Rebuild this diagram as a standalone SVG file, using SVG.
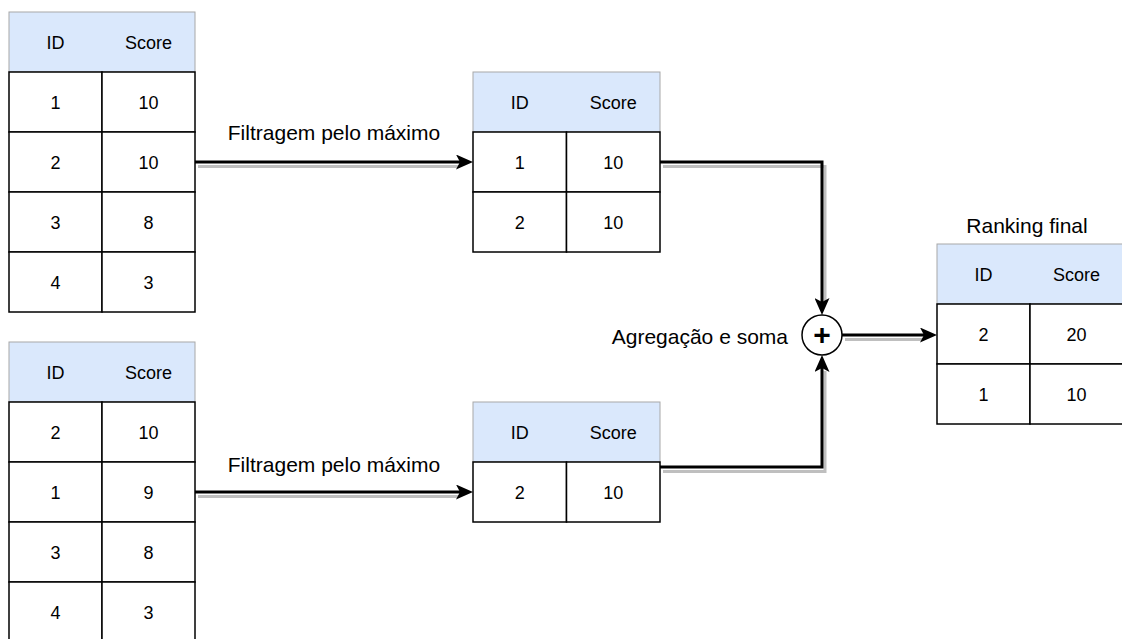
<svg xmlns="http://www.w3.org/2000/svg" width="1122" height="639" viewBox="0 0 1122 639">
<defs>
<style>
.hdr{fill:#dae8fc;stroke:#a8a8a8;stroke-width:1}
.cell{fill:#ffffff;stroke:#000;stroke-width:1.5}
.t{font-family:"Liberation Sans",Arial,sans-serif;font-size:18px;fill:#000;text-anchor:middle}
.lbl{font-family:"Liberation Sans",Arial,sans-serif;font-size:21px;fill:#000}
.edge{fill:none;stroke:#000;stroke-width:3}
.shadow{fill:none;stroke:#000;stroke-opacity:0.25;stroke-width:3}
</style>
<marker id="arr" markerUnits="userSpaceOnUse" markerWidth="17" markerHeight="15" refX="9" refY="7.5" orient="auto">
<path d="M0,0 L17,7.5 L0,15 L4,7.5 Z" fill="#000"/>
</marker>
</defs>
<rect width="1122" height="639" fill="#fff"/>

<g id="table1">
<rect class="hdr" x="9" y="12" width="186" height="60"/>
<text class="t" x="55.5" y="48.5">ID</text><text class="t" x="148.5" y="48.5">Score</text>
<rect class="cell" x="9" y="72" width="93" height="60"/><rect class="cell" x="102" y="72" width="93" height="60"/>
<text class="t" x="55.5" y="108.5">1</text><text class="t" x="148.5" y="108.5">10</text>
<rect class="cell" x="9" y="132" width="93" height="60"/><rect class="cell" x="102" y="132" width="93" height="60"/>
<text class="t" x="55.5" y="168.5">2</text><text class="t" x="148.5" y="168.5">10</text>
<rect class="cell" x="9" y="192" width="93" height="60"/><rect class="cell" x="102" y="192" width="93" height="60"/>
<text class="t" x="55.5" y="228.5">3</text><text class="t" x="148.5" y="228.5">8</text>
<rect class="cell" x="9" y="252" width="93" height="60"/><rect class="cell" x="102" y="252" width="93" height="60"/>
<text class="t" x="55.5" y="288.5">4</text><text class="t" x="148.5" y="288.5">3</text>
</g>

<g id="table2">
<rect class="hdr" x="9" y="342" width="186" height="60"/>
<text class="t" x="55.5" y="378.5">ID</text><text class="t" x="148.5" y="378.5">Score</text>
<rect class="cell" x="9" y="402" width="93" height="60"/><rect class="cell" x="102" y="402" width="93" height="60"/>
<text class="t" x="55.5" y="438.5">2</text><text class="t" x="148.5" y="438.5">10</text>
<rect class="cell" x="9" y="462" width="93" height="60"/><rect class="cell" x="102" y="462" width="93" height="60"/>
<text class="t" x="55.5" y="498.5">1</text><text class="t" x="148.5" y="498.5">9</text>
<rect class="cell" x="9" y="522" width="93" height="60"/><rect class="cell" x="102" y="522" width="93" height="60"/>
<text class="t" x="55.5" y="558.5">3</text><text class="t" x="148.5" y="558.5">8</text>
<rect class="cell" x="9" y="582" width="93" height="60"/><rect class="cell" x="102" y="582" width="93" height="60"/>
<text class="t" x="55.5" y="618.5">4</text><text class="t" x="148.5" y="618.5">3</text>
</g>

<g id="table3">
<rect class="hdr" x="473" y="72" width="187" height="60"/>
<text class="t" x="519.75" y="108.5">ID</text><text class="t" x="613.25" y="108.5">Score</text>
<rect class="cell" x="473" y="132" width="93.5" height="60"/><rect class="cell" x="566.5" y="132" width="93.5" height="60"/>
<text class="t" x="519.75" y="168.5">1</text><text class="t" x="613.25" y="168.5">10</text>
<rect class="cell" x="473" y="192" width="93.5" height="60"/><rect class="cell" x="566.5" y="192" width="93.5" height="60"/>
<text class="t" x="519.75" y="228.5">2</text><text class="t" x="613.25" y="228.5">10</text>
</g>

<g id="table4">
<rect class="hdr" x="473" y="402" width="187" height="60"/>
<text class="t" x="519.75" y="438.5">ID</text><text class="t" x="613.25" y="438.5">Score</text>
<rect class="cell" x="473" y="462" width="93.5" height="60"/><rect class="cell" x="566.5" y="462" width="93.5" height="60"/>
<text class="t" x="519.75" y="498.5">2</text><text class="t" x="613.25" y="498.5">10</text>
</g>

<g id="ranking">
<text class="lbl" x="1027" y="233" text-anchor="middle">Ranking final</text>
<rect class="hdr" x="937" y="244" width="186" height="60"/>
<text class="t" x="983.5" y="280.5">ID</text><text class="t" x="1076.5" y="280.5">Score</text>
<rect class="cell" x="937" y="304" width="93" height="60"/><rect class="cell" x="1030" y="304" width="93" height="60"/>
<text class="t" x="983.5" y="340.5">2</text><text class="t" x="1076.5" y="340.5">20</text>
<rect class="cell" x="937" y="364" width="93" height="60"/><rect class="cell" x="1030" y="364" width="93" height="60"/>
<text class="t" x="983.5" y="400.5">1</text><text class="t" x="1076.5" y="400.5">10</text>
</g>

<g id="sum">
<circle cx="822" cy="335" r="20" fill="#fff" stroke="#000" stroke-width="1.5"/>
<text x="822" y="345" text-anchor="middle" font-family="Liberation Sans, Arial, sans-serif" font-size="30" font-weight="bold" fill="#000">+</text>
<text class="lbl" x="788" y="344" text-anchor="end">Agregação e soma</text>
</g>

<g id="connectors">
<path class="shadow" d="M198,166.5 H460"/>
<path class="shadow" d="M198,496.5 H460"/>
<path class="shadow" d="M663,166.5 H825 V302"/>
<path class="shadow" d="M663,471.5 H825 V371"/>
<path class="shadow" d="M845,339.5 H924"/>
<path class="edge" marker-end="url(#arr)" d="M195,162 H465"/>
<path class="edge" marker-end="url(#arr)" d="M195,492 H465"/>
<path class="edge" marker-end="url(#arr)" d="M660,162 H822 V307"/>
<path class="edge" marker-end="url(#arr)" d="M660,467 H822 V363"/>
<path class="edge" marker-end="url(#arr)" d="M842,335 H929"/>
<text class="lbl" x="334" y="140" text-anchor="middle">Filtragem pelo máximo</text>
<text class="lbl" x="334" y="472" text-anchor="middle">Filtragem pelo máximo</text>
</g>
</svg>
